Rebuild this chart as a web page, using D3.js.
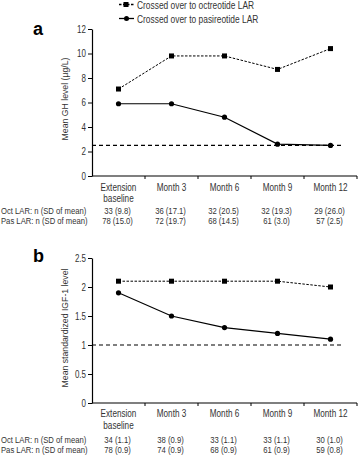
<!DOCTYPE html>
<html><head><meta charset="utf-8">
<script src="https://cdn.jsdelivr.net/npm/d3@7"></script>
<style>body{margin:0;background:#fff;} text{font-family:"Liberation Sans",Arial,sans-serif;}</style>
</head><body><svg id="c" width="358" height="456"></svg>
<script>
const categories = ["Extension\nbaseline","Month 3","Month 6","Month 9","Month 12"];
const ghOct = [7.1, 9.8, 9.8, 8.7, 10.4];
const ghPas = [5.9, 5.9, 4.8, 2.6, 2.5];
const ghTicks = [0,2,4,6,8,10,12];
const ghRef = 2.5;
const ghOctN = ["33 (9.8)","36 (17.1)","32 (20.5)","32 (19.3)","29 (26.0)"];
const ghPasN = ["78 (15.0)","72 (19.7)","68 (14.5)","61 (3.0)","57 (2.5)"];
const igfOct = [2.1, 2.1, 2.1, 2.1, 2.0];
const igfPas = [1.9, 1.5, 1.3, 1.2, 1.1];
const igfTicks = [0,0.5,1,1.5,2,2.5];
const igfRef = 1;
const igfOctN = ["34 (1.1)","38 (0.9)","33 (1.1)","33 (1.1)","30 (1.0)"];
const igfPasN = ["78 (0.9)","74 (0.9)","68 (0.9)","61 (0.9)","59 (0.8)"];
const legendLabels = ["Crossed over to octreotide LAR","Crossed over to pasireotide LAR"];

const svg = d3.select("#c");
const txt = "#333";
const SX = 0.8; // horizontal condensation of the reference's narrow typeface
const x = d3.scaleBand().domain(categories).range([92,357]).padding(0);

function ntext(g, px, py, s, size, anchor){
  return g.append("text").attr("transform",`translate(${px},${py}) scale(${SX},1)`)
    .attr("text-anchor",anchor||"start").attr("font-size",size).attr("fill",txt).text(s);
}

// legend
const lg = svg.append("g");
legendLabels.forEach((l,i)=>{
  const y = 4.5 + i*14;
  lg.append("line").attr("x1",119).attr("x2",134).attr("y1",y).attr("y2",y)
    .attr("stroke","#000").attr("stroke-width",1.3).attr("stroke-dasharray", i===0?"2.5,1.5":null);
  if(i===0) lg.append("rect").attr("x",123.5).attr("y",y-2.5).attr("width",5).attr("height",5).attr("fill","#000");
  else lg.append("circle").attr("cx",126.5).attr("cy",y).attr("r",2.5).attr("fill","#000");
  ntext(lg,137,y+4,l,10.5);
});

function panel(o){
  const y = d3.scaleLinear().domain(o.domain).range([o.y0,o.y1]);
  const g = svg.append("g");
  g.append("text").attr("x",33).attr("y",o.labY).attr("font-size",18).attr("font-weight","bold")
    .attr("fill","#000").text(o.label);
  // y axis
  const ya = g.append("g").attr("transform","translate(92,0)")
    .call(d3.axisLeft(y).tickValues(o.ticks).tickSize(4).tickSizeOuter(0).tickFormat(""));
  ya.select(".domain").attr("stroke","#000").attr("stroke-width",1.2);
  ya.selectAll(".tick line").attr("stroke","#000");
  ya.selectAll(".tick text").remove();
  o.ticks.forEach(t=>ntext(g,86,y(t)+3.5,String(t),10,"end"));
  // x axis
  g.append("line").attr("x1",92).attr("x2",357).attr("y1",o.y0).attr("y2",o.y0).attr("stroke","#000").attr("stroke-width",1.2);
  categories.forEach(c=>{
    const xe = x(c)+x.bandwidth();
    g.append("line").attr("x1",xe).attr("x2",xe).attr("y1",o.y0).attr("y2",o.y0+3).attr("stroke","#000");
    c.split("\n").forEach((p,j)=>{
      ntext(g,x(c)+x.bandwidth()/2,o.y0+o.catDy+j*11.5,p,10.2,"middle");
    });
  });
  // y title
  g.append("text").attr("transform",`translate(${o.titleX},${o.titleY}) rotate(-90)`)
    .attr("text-anchor","middle").attr("font-size",8.7).attr("fill",txt).text(o.title);
  // reference line
  g.append("line").attr("x1",92).attr("x2",344).attr("y1",y(o.ref)).attr("y2",y(o.ref))
    .attr("stroke","#000").attr("stroke-width",1.1).attr("stroke-dasharray","4,3");
  const cx = (d,i)=>x(categories[i])+x.bandwidth()/2;
  const line = d3.line().x(cx).y(d=>y(d));
  g.append("path").datum(o.oct).attr("d",line).attr("fill","none").attr("stroke","#000").attr("stroke-width",1).attr("stroke-dasharray","2.5,1.5");
  g.append("path").datum(o.pas).attr("d",line).attr("fill","none").attr("stroke","#000").attr("stroke-width",1.2);
  g.selectAll(".sq").data(o.oct).join("rect").attr("x",(d,i)=>cx(d,i)-2.5).attr("y",d=>y(d)-2.5).attr("width",5).attr("height",5).attr("fill","#000");
  g.selectAll(".ci").data(o.pas).join("circle").attr("cx",cx).attr("cy",d=>y(d)).attr("r",2.6).attr("fill","#000");
  // n rows
  [["Oct LAR: n (SD of mean)",o.octN,o.rowY],["Pas LAR: n (SD of mean)",o.pasN,o.rowY+10]].forEach(([lab,vals,ry])=>{
    ntext(g,1,ry,lab,9.6);
    vals.forEach((v,i)=>ntext(g,x(categories[i])+x.bandwidth()/2-1,ry,v,9.6,"middle"));
  });
}

panel({label:"a",labY:35,domain:[0,12],y0:176,y1:29,ticks:ghTicks,ref:ghRef,oct:ghOct,pas:ghPas,catDy:14.5,
  title:"Mean GH level (µg/L)",titleX:68,titleY:99,octN:ghOctN,pasN:ghPasN,rowY:213.5});
panel({label:"b",labY:262,domain:[0,2.5],y0:403,y1:258,ticks:igfTicks,ref:igfRef,oct:igfOct,pas:igfPas,catDy:14,
  title:"Mean standardized IGF-1 level",titleX:68,titleY:328,octN:igfOctN,pasN:igfPasN,rowY:442.5});
</script></body></html>
